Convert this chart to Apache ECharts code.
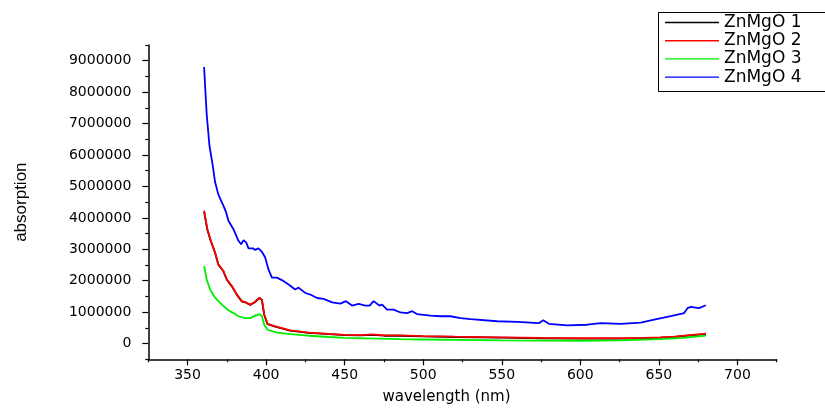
<!DOCTYPE html>
<html>
<head>
<meta charset="utf-8">
<script src="https://cdn.jsdelivr.net/npm/echarts@6/dist/echarts.min.js"></script>
<style>html,body{margin:0;padding:0;background:#fff}#c{width:825px;height:410px}</style>
</head>
<body>
<div id="c"></div>
<script>
// ---- data ----
var seriesNames = ['ZnMgO 1', 'ZnMgO 2', 'ZnMgO 3', 'ZnMgO 4'];

// ZnMgO 1 (black, mostly hidden under ZnMgO 2)
var wl1 = [360.5, 362.6, 364.8, 367.5, 369.6, 372.8, 375, 378.2, 381.4, 384.5, 387.3, 389.8, 392.4, 395.8, 397.3, 398.8, 400.9, 405.8, 415.3, 427, 440, 450, 460, 468, 475, 485, 500, 520, 549, 575, 600, 625, 640, 651, 660, 670, 680];
var abs1 = [4200000, 3620000, 3260000, 2890000, 2510000, 2300000, 2030000, 1820000, 1550000, 1340000, 1300000, 1230000, 1300000, 1450000, 1390000, 910000, 620000, 540000, 410000, 340000, 300000, 270000, 260000, 280000, 250000, 250000, 230000, 210000, 190000, 170000, 160000, 160000, 170000, 190000, 210000, 260000, 300000];

// ZnMgO 2 (red)
var wl2 = [360.5, 362.6, 364.8, 367.5, 369.6, 372.8, 375, 378.2, 381.4, 384.5, 387.3, 389.8, 392.4, 395.8, 397.3, 398.8, 400.9, 405.8, 415.3, 427, 440, 450, 460, 468, 475, 485, 500, 520, 549, 575, 600, 625, 640, 651, 660, 670, 680];
var abs2 = [4230000, 3640000, 3270000, 2900000, 2520000, 2310000, 2040000, 1830000, 1560000, 1350000, 1310000, 1240000, 1310000, 1460000, 1400000, 920000, 630000, 545000, 420000, 350000, 310000, 280000, 270000, 290000, 260000, 260000, 240000, 220000, 200000, 180000, 170000, 170000, 180000, 200000, 220000, 270000, 320000];

// ZnMgO 3 (green)
var wl3 = [360.5, 362.2, 364.3, 367.5, 371.8, 376, 379.2, 382.4, 386.6, 389.8, 393, 395.8, 397.3, 398.8, 400.9, 406.9, 415.3, 427, 440, 450, 470, 485, 500, 550, 600, 625, 651, 665, 680];
var abs3 = [2470000, 2040000, 1720000, 1460000, 1240000, 1060000, 970000, 870000, 810000, 810000, 890000, 940000, 870000, 600000, 440000, 350000, 300000, 250000, 210000, 180000, 160000, 140000, 130000, 100000, 90000, 100000, 140000, 180000, 250000];

// ZnMgO 4 (blue)
var wl4 = [360.5, 362.2, 363.9, 366, 367.5, 369.6, 372.8, 374.5, 376, 379.2, 382.4, 384.1, 385.6, 387.3, 388.8, 391.6, 393, 395.1, 397.3, 399.4, 401.5, 403.7, 406.9, 410, 414.3, 418.5, 420.6, 425, 428.1, 432.4, 436.6, 442, 447.2, 450.8, 454.7, 458.9, 463.2, 465.9, 468.4, 472.1, 473.8, 477, 481.2, 485.5, 489.7, 493, 496, 504.6, 511, 517.3, 523.7, 530.1, 547.1, 559.9, 573.6, 576.4, 580, 591.7, 604.5, 613, 625.7, 638.5, 647, 657.6, 666.1, 668.3, 670.3, 675.6, 679.9];
var abs4 = [8800000, 7280000, 6310000, 5670000, 5140000, 4740000, 4390000, 4180000, 3910000, 3640000, 3270000, 3160000, 3290000, 3220000, 3030000, 3030000, 2980000, 3030000, 2920000, 2740000, 2360000, 2100000, 2100000, 2020000, 1880000, 1720000, 1780000, 1610000, 1560000, 1450000, 1420000, 1310000, 1270000, 1350000, 1210000, 1260000, 1210000, 1210000, 1350000, 1210000, 1240000, 1080000, 1080000, 990000, 970000, 1030000, 940000, 890000, 870000, 870000, 810000, 780000, 710000, 690000, 650000, 740000, 630000, 580000, 600000, 650000, 630000, 670000, 760000, 870000, 970000, 1130000, 1170000, 1130000, 1220000];

var xMajor = [350, 400, 450, 500, 550, 600, 650, 700];
var xMinor = [325, 375, 425, 475, 525, 575, 625, 675, 725];
var yMajor = [0, 1000000, 2000000, 3000000, 4000000, 5000000, 6000000, 7000000, 8000000, 9000000];
var yMinor = [-500000, 500000, 1500000, 2500000, 3500000, 4500000, 5500000, 6500000, 7500000, 8500000, 9500000];

var colors = ['#000000', '#ff0000', '#00ee00', '#0000ff'];

function pairs(xs, ys) { return xs.map(function (x, i) { return [x, ys[i]]; }); }

var chart = echarts.init(document.getElementById('c'));
var axisLineStyle = { color: '#000', width: 1.5 };
var labelFont = { fontFamily: 'DejaVu Sans', fontSize: 14, color: '#000' };
function plain(v) { return String(v); }

chart.setOption({
  animation: false,
  color: colors,
  grid: { left: 148.3, top: 45, right: 48.3, bottom: 50.7, containLabel: false, outerBoundsMode: 'none' },
  graphic: [{
    type: 'rect', left: 656, top: 10, z: 100,
    shape: { width: 200, height: 79 },
    style: { fill: 'none', stroke: '#000', lineWidth: 1 }
  }],
  legend: {
    orient: 'vertical',
    left: 656, top: 10,
    padding: [4, 0, 3, 9],
    itemGap: 1.2,
    icon: 'rect',
    itemWidth: 54, itemHeight: 1.4,
    textStyle: { fontFamily: 'DejaVu Sans', fontSize: 17, color: '#000', lineHeight: 17 },
    data: seriesNames
  },
  xAxis: [{
    type: 'value', min: 325, max: 725,
    name: 'wavelength (nm)', nameLocation: 'middle', nameGap: 30,
    nameTextStyle: { fontFamily: 'DejaVu Sans', fontSize: 15, color: '#000', padding: [0, 32, 0, 0] },
    axisLine: { show: true, onZero: false, lineStyle: axisLineStyle },
    axisTick: { show: true, length: 6, customValues: xMajor, lineStyle: { color: '#000', width: 1.2 } },
    axisLabel: Object.assign({ margin: 9, customValues: xMajor, formatter: plain }, labelFont),
    splitLine: { show: false }
  }, {
    type: 'value', min: 325, max: 725, position: 'bottom',
    axisLine: { show: false, onZero: false },
    axisTick: { show: true, length: 3, customValues: xMinor, lineStyle: { color: '#000', width: 1.2 } },
    axisLabel: { show: false },
    splitLine: { show: false }
  }],
  yAxis: [{
    type: 'value', min: -500000, max: 9500000,
    name: 'absorption', nameLocation: 'middle', nameGap: 118, nameRotate: 90,
    nameTextStyle: { fontFamily: 'Liberation Sans', fontSize: 17, color: '#000' },
    axisLine: { show: true, onZero: false, lineStyle: axisLineStyle },
    axisTick: { show: true, length: 6, customValues: yMajor, lineStyle: { color: '#000', width: 1.2 } },
    axisLabel: Object.assign({ margin: 17, customValues: yMajor, formatter: plain }, labelFont),
    splitLine: { show: false }
  }, {
    type: 'value', min: -500000, max: 9500000, position: 'left',
    axisLine: { show: false, onZero: false },
    axisTick: { show: true, length: 3, customValues: yMinor, lineStyle: { color: '#000', width: 1.2 } },
    axisLabel: { show: false },
    splitLine: { show: false }
  }],
  series: [
    { name: seriesNames[0], type: 'line', data: pairs(wl1, abs1), symbol: 'none', showSymbol: false, lineStyle: { width: 1.8 } },
    { name: seriesNames[1], type: 'line', data: pairs(wl2, abs2), symbol: 'none', showSymbol: false, lineStyle: { width: 1.8 } },
    { name: seriesNames[2], type: 'line', data: pairs(wl3, abs3), symbol: 'none', showSymbol: false, lineStyle: { width: 1.8 } },
    { name: seriesNames[3], type: 'line', data: pairs(wl4, abs4), symbol: 'none', showSymbol: false, lineStyle: { width: 1.8 } }
  ]
});
</script>
</body>
</html>
